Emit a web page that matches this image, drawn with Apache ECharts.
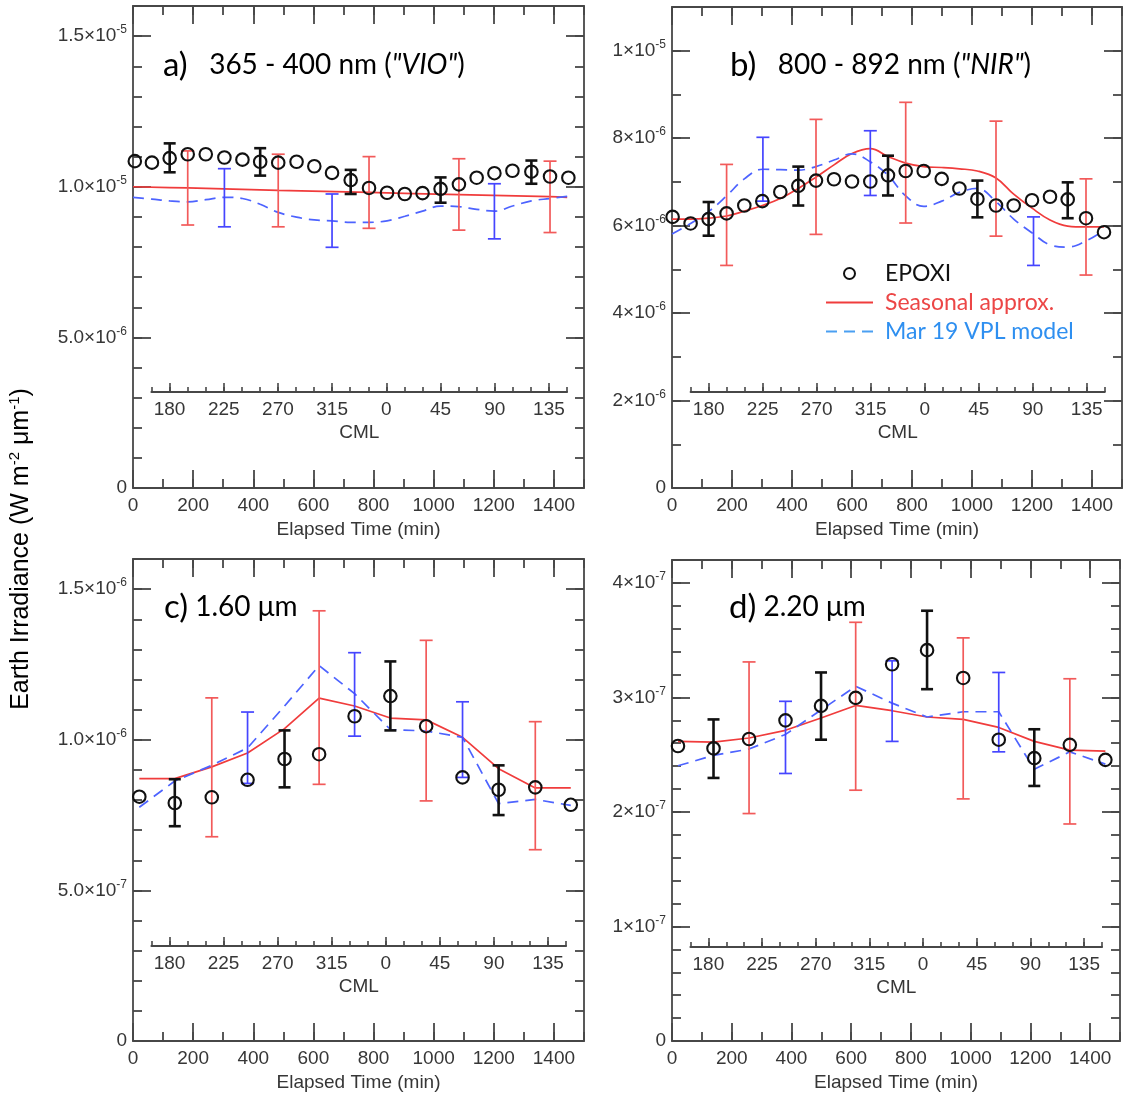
<!DOCTYPE html>
<html><head><meta charset="utf-8">
<script src="https://cdn.jsdelivr.net/npm/echarts@6/dist/echarts.min.js"></script>
<style>html,body{margin:0;padding:0;background:#fff}#c{width:1123px;height:1097px}</style>
</head><body><div id="c"></div>
<script>
// ================= DATA =================
const xTicks = [0, 200, 400, 600, 800, 1000, 1200, 1400];
const cmlTicks = [180, 225, 270, 315, 360, 405, 450, 495]; // shown modulo 360

// ---- panel a : 365-400 nm (units 1e-6) ----
const aUnit = 1e-6;
const aYTicks = [0, 5e-6, 1e-5, 1.5e-5];
const aYLabels = ['0', '5.0×10^-6', '1.0×10^-5', '1.5×10^-5'];
const aEpoxiT = [6, 63, 122, 182, 242, 304, 364, 423, 483, 544, 603, 662, 724, 785, 845, 904, 963, 1023, 1084, 1143, 1202, 1262, 1325, 1387, 1448];
const aEpoxiV = [10.85, 10.80, 10.95, 11.08, 11.08, 10.97, 10.90, 10.83, 10.80, 10.83, 10.68, 10.46, 10.22, 9.96, 9.80, 9.76, 9.79, 9.93, 10.08, 10.30, 10.45, 10.53, 10.50, 10.34, 10.30];
const aEpoxiErrT = [122, 423, 724, 1023, 1325];
const aEpoxiErrLo = [10.48, 10.37, 9.76, 9.47, 10.10];
const aEpoxiErrHi = [11.44, 11.28, 10.56, 10.31, 10.87];
const aSeasT = [0, 182, 483, 785, 1084, 1387, 1444];
const aSeasV = [10.0, 9.96, 9.88, 9.81, 9.74, 9.67, 9.65];
const aSeasErrT = [182, 483, 785, 1084, 1387];
const aSeasErrLo = [8.73, 8.67, 8.62, 8.56, 8.48];
const aSeasErrHi = [11.19, 11.08, 11.00, 10.93, 10.85];
const aVplT = [0, 63, 122, 182, 242, 304, 364, 423, 483, 544, 603, 662, 724, 785, 845, 904, 963, 1023, 1084, 1143, 1202, 1262, 1325, 1387, 1444];
const aVplV = [9.65, 9.59, 9.53, 9.50, 9.57, 9.65, 9.61, 9.42, 9.15, 8.99, 8.90, 8.87, 8.82, 8.82, 8.87, 9.02, 9.19, 9.36, 9.34, 9.25, 9.19, 9.36, 9.53, 9.61, 9.68];
const aVplErrT = [304, 662, 1202];
const aVplErrLo = [8.67, 7.99, 8.27];
const aVplErrHi = [10.60, 9.76, 10.10];

// ---- panel b : 800-892 nm (units 1e-6) ----
const bUnit = 1e-6;
const bYTicks = [0, 2e-6, 4e-6, 6e-6, 8e-6, 1e-5];
const bYLabels = ['0', '2×10^-6', '4×10^-6', '6×10^-6', '8×10^-6', '1×10^-5'];
const bEpoxiT = [2, 62, 122, 182, 241, 301, 361, 421, 480, 540, 600, 661, 720, 779, 839, 899, 958, 1018, 1080, 1139, 1200, 1260, 1319, 1380, 1440];
const bEpoxiV = [6.20, 6.05, 6.15, 6.28, 6.46, 6.56, 6.77, 6.91, 7.03, 7.06, 7.01, 7.01, 7.15, 7.25, 7.25, 7.07, 6.85, 6.61, 6.46, 6.46, 6.58, 6.66, 6.60, 6.17, 5.85];
const bEpoxiErrT = [122, 421, 720, 1018, 1319];
const bEpoxiErrLo = [5.77, 6.46, 6.69, 6.19, 6.17];
const bEpoxiErrHi = [6.54, 7.35, 7.60, 7.03, 6.99];
const bSeasT = [0, 60, 122, 182, 241, 301, 361, 421, 480, 540, 600, 661, 720, 779, 839, 899, 958, 1018, 1080, 1139, 1200, 1260, 1319, 1380, 1440];
const bSeasV = [6.15, 6.15, 6.17, 6.22, 6.33, 6.46, 6.62, 6.85, 7.11, 7.39, 7.65, 7.76, 7.58, 7.43, 7.35, 7.33, 7.30, 7.25, 7.09, 6.72, 6.40, 6.13, 5.99, 5.97, 5.97];
const bSeasErrT = [182, 480, 779, 1080, 1380];
const bSeasErrLo = [5.09, 5.80, 6.06, 5.76, 4.87];
const bSeasErrHi = [7.40, 8.43, 8.82, 8.39, 7.07];
const bVplT = [0, 62, 122, 182, 241, 303, 361, 421, 480, 540, 600, 661, 720, 779, 839, 899, 958, 1018, 1080, 1139, 1205, 1260, 1319, 1380, 1440];
const bVplV = [5.81, 6.05, 6.32, 6.68, 7.07, 7.29, 7.28, 7.27, 7.35, 7.50, 7.64, 7.46, 7.15, 6.68, 6.44, 6.56, 6.76, 6.85, 6.55, 6.15, 5.81, 5.56, 5.51, 5.65, 5.89];
const bVplErrT = [303, 661, 1205];
const bVplErrLo = [6.56, 6.69, 5.09];
const bVplErrHi = [8.02, 8.17, 6.20];

// ---- panel c : 1.60 um (units 1e-7) ----
const cUnit = 1e-7;
const cYTicks = [0, 5e-7, 1e-6, 1.5e-6];
const cYLabels = ['0', '5.0×10^-7', '1.0×10^-6', '1.5×10^-6'];
const cEpoxiT = [21, 139, 262, 381, 504, 619, 737, 856, 975, 1096, 1216, 1338, 1456];
const cEpoxiV = [8.11, 7.90, 8.09, 8.67, 9.36, 9.52, 10.78, 11.45, 10.45, 8.75, 8.34, 8.42, 7.84];
const cEpoxiErrT = [139, 504, 856, 1216];
const cEpoxiErrLo = [7.13, 8.42, 10.31, 7.50];
const cEpoxiErrHi = [8.69, 10.31, 12.60, 9.15];
const cSeasT = [21, 139, 262, 381, 504, 619, 737, 856, 975, 1096, 1216, 1338, 1456];
const cSeasV = [8.71, 8.71, 9.10, 9.56, 10.37, 11.38, 11.12, 10.72, 10.66, 10.08, 9.04, 8.40, 8.40];
const cSeasErrT = [262, 619, 975, 1338];
const cSeasErrLo = [6.78, 8.52, 7.97, 6.35];
const cSeasErrHi = [11.39, 14.28, 13.30, 10.60];
const cVplT = [21, 139, 262, 381, 504, 619, 737, 856, 975, 1096, 1216, 1338, 1456];
const cVplV = [7.76, 8.63, 9.15, 9.73, 11.12, 12.46, 11.53, 10.34, 10.29, 10.08, 7.88, 8.02, 7.82];
const cVplErrT = [381, 737, 1096];
const cVplErrLo = [8.55, 10.12, 8.75];
const cVplErrHi = [10.92, 12.89, 11.26];

// ---- panel d : 2.20 um (units 1e-7) ----
const dUnit = 1e-7;
const dYTicks = [0, 1e-7, 2e-7, 3e-7, 4e-7];
const dYLabels = ['0', '1×10^-7', '2×10^-7', '3×10^-7', '4×10^-7'];
const dEpoxiT = [20, 139, 258, 380, 499, 615, 737, 854, 975, 1094, 1213, 1332, 1451];
const dEpoxiV = [2.576, 2.555, 2.637, 2.800, 2.926, 2.996, 3.290, 3.413, 3.170, 2.631, 2.470, 2.586, 2.455];
const dEpoxiErrT = [139, 499, 854, 1213];
const dEpoxiErrLo = [2.297, 2.631, 3.072, 2.227];
const dEpoxiErrHi = [2.808, 3.218, 3.757, 2.722];
const dSeasT = [20, 139, 258, 380, 499, 615, 737, 854, 975, 1094, 1213, 1332, 1451];
const dSeasV = [2.616, 2.610, 2.646, 2.713, 2.820, 2.930, 2.884, 2.829, 2.808, 2.738, 2.616, 2.540, 2.531];
const dSeasErrT = [258, 615, 975, 1332];
const dSeasErrLo = [1.986, 2.190, 2.114, 1.895];
const dSeasErrHi = [3.310, 3.656, 3.520, 3.163];
const dVplT = [20, 139, 258, 380, 499, 615, 737, 854, 975, 1094, 1213, 1332, 1451];
const dVplV = [2.403, 2.494, 2.549, 2.677, 2.890, 3.097, 2.950, 2.829, 2.875, 2.875, 2.373, 2.525, 2.418];
const dVplErrT = [380, 737, 1094];
const dVplErrLo = [2.336, 2.616, 2.525];
const dVplErrHi = [2.966, 3.320, 3.218];

// ================= STYLE / LAYOUT =================
const AX = '#474747', LBL = '#363636';
const HF = "'Liberation Sans', Arial, Helvetica, sans-serif";
const CF = "Lato, 'Open Sans', sans-serif";
const RED = '#f03c3c', RED_ERR = '#f25a5a', BLUE = '#4d63ff', BLUE_ERR = '#4545ff';

function pairs(t, v, u) { return t.map((x, i) => [x, v[i] * u]); }
function bars(t, lo, hi, u) { return t.map((x, i) => [x, lo[i] * u, hi[i] * u]); }

const panels = [
  { grid: { left: 133, top: 6, width: 451, height: 482 }, cml: { left: 151.5, width: 415.5, y: 392 },
    ymax: 1.6e-5, yminor: 1e-6, yTicks: aYTicks, yLabels: aYLabels, smooth: 0.4,
    epoxi: pairs(aEpoxiT, aEpoxiV, aUnit), epoxiErr: bars(aEpoxiErrT, aEpoxiErrLo, aEpoxiErrHi, aUnit),
    seas: pairs(aSeasT, aSeasV, aUnit), seasErr: bars(aSeasErrT, aSeasErrLo, aSeasErrHi, aUnit),
    vpl: pairs(aVplT, aVplV, aUnit), vplErr: bars(aVplErrT, aVplErrLo, aVplErrHi, aUnit) },
  { grid: { left: 672, top: 7, width: 450, height: 481 }, cml: { left: 690.7, width: 414, y: 392 },
    ymax: 1.1e-5, yminor: 1e-6, yTicks: bYTicks, yLabels: bYLabels, smooth: 0.4,
    epoxi: pairs(bEpoxiT, bEpoxiV, bUnit), epoxiErr: bars(bEpoxiErrT, bEpoxiErrLo, bEpoxiErrHi, bUnit),
    seas: pairs(bSeasT, bSeasV, bUnit), seasErr: bars(bSeasErrT, bSeasErrLo, bSeasErrHi, bUnit),
    vpl: pairs(bVplT, bVplV, bUnit), vplErr: bars(bVplErrT, bVplErrLo, bVplErrHi, bUnit) },
  { grid: { left: 133, top: 559, width: 451, height: 482 }, cml: { left: 151.5, width: 414.5, y: 946 },
    ymax: 1.6e-6, yminor: 1e-7, yTicks: cYTicks, yLabels: cYLabels, smooth: false,
    epoxi: pairs(cEpoxiT, cEpoxiV, cUnit), epoxiErr: bars(cEpoxiErrT, cEpoxiErrLo, cEpoxiErrHi, cUnit),
    seas: pairs(cSeasT, cSeasV, cUnit), seasErr: bars(cSeasErrT, cSeasErrLo, cSeasErrHi, cUnit),
    vpl: pairs(cVplT, cVplV, cUnit), vplErr: bars(cVplErrT, cVplErrLo, cVplErrHi, cUnit) },
  { grid: { left: 672, top: 560, width: 448, height: 481 }, cml: { left: 690.5, width: 411.5, y: 947 },
    ymax: 4.2e-7, yminor: 2e-8, yTicks: dYTicks, yLabels: dYLabels, smooth: false,
    epoxi: pairs(dEpoxiT, dEpoxiV, dUnit), epoxiErr: bars(dEpoxiErrT, dEpoxiErrLo, dEpoxiErrHi, dUnit),
    seas: pairs(dSeasT, dSeasV, dUnit), seasErr: bars(dSeasErrT, dSeasErrLo, dSeasErrHi, dUnit),
    vpl: pairs(dVplT, dVplV, dUnit), vplErr: bars(dVplErrT, dVplErrLo, dVplErrHi, dUnit) }
];

function sciRich(s) {
  const k = s.indexOf('^');
  if (k < 0) return '{m|' + s + '}';
  return '{m|' + s.slice(0, k) + '}{e|' + s.slice(k + 1) + '}';
}
function labelFor(ticks, labels, v) {
  for (let i = 0; i < ticks.length; i++) {
    if (Math.abs(ticks[i] - v) <= Math.abs(ticks[ticks.length - 1]) * 1e-6) return labels[i];
  }
  return '';
}
function errRender(color, width, cap) {
  return function (params, api) {
    const x = api.value(0), lo = api.value(1), hi = api.value(2);
    const p1 = api.coord([x, lo]), p2 = api.coord([x, hi]);
    const st = { stroke: color, lineWidth: width, fill: null };
    return { type: 'group', children: [
      { type: 'line', shape: { x1: p1[0], y1: p1[1], x2: p2[0], y2: p2[1] }, style: st },
      { type: 'line', shape: { x1: p1[0] - cap, y1: p1[1], x2: p1[0] + cap, y2: p1[1] }, style: st },
      { type: 'line', shape: { x1: p2[0] - cap, y1: p2[1], x2: p2[0] + cap, y2: p2[1] }, style: st }
    ] };
  };
}

const lineSt = { color: AX, width: 1.8 };
const grids = [], xAxes = [], yAxes = [], series = [];

panels.forEach((p) => { grids.push(Object.assign({ containLabel: false }, p.grid)); });
panels.forEach((p) => { grids.push({ left: p.cml.left, width: p.cml.width, top: p.cml.y - 1, height: 1 }); });

panels.forEach((p, i) => {
  // x axes: bottom major, bottom minor, top major, top minor
  xAxes.push({ type: 'value', gridIndex: i, min: 0, max: 1500, position: 'bottom',
    axisLine: { show: true, onZero: false, lineStyle: lineSt },
    axisTick: { show: true, inside: true, length: 18, customValues: xTicks, lineStyle: lineSt },
    axisLabel: { show: true, customValues: xTicks, margin: 8, fontSize: 19, color: LBL, fontFamily: HF,
      formatter: v => String(Math.round(v)) },
    splitLine: { show: false },
    name: 'Elapsed Time (min)', nameLocation: 'middle', nameGap: 32,
    nameTextStyle: { fontSize: 19, color: LBL, fontFamily: HF } });
  xAxes.push({ type: 'value', gridIndex: i, min: 0, max: 1500, interval: 100, position: 'bottom',
    axisLine: { show: false, onZero: false }, axisTick: { show: true, inside: true, length: 9, lineStyle: lineSt },
    axisLabel: { show: false }, splitLine: { show: false } });
  xAxes.push({ type: 'value', gridIndex: i, min: 0, max: 1500, position: 'top',
    axisLine: { show: true, onZero: false, lineStyle: lineSt },
    axisTick: { show: true, inside: true, length: 18, customValues: xTicks, lineStyle: lineSt },
    axisLabel: { show: false }, splitLine: { show: false } });
  xAxes.push({ type: 'value', gridIndex: i, min: 0, max: 1500, interval: 100, position: 'top',
    axisLine: { show: false, onZero: false }, axisTick: { show: true, inside: true, length: 9, lineStyle: lineSt },
    axisLabel: { show: false }, splitLine: { show: false } });

  const fmt = v => sciRich(labelFor(p.yTicks, p.yLabels, v));
  yAxes.push({ type: 'value', gridIndex: i, min: 0, max: p.ymax, position: 'left',
    axisLine: { show: true, onZero: false, lineStyle: lineSt },
    axisTick: { show: true, inside: true, length: 18, customValues: p.yTicks, lineStyle: lineSt },
    axisLabel: { show: true, customValues: p.yTicks, margin: 6, formatter: fmt, color: LBL,
      rich: { m: { fontSize: 19, color: LBL, fontFamily: HF },
              e: { fontSize: 12, color: LBL, fontFamily: HF, padding: [0, 0, 12, 0] } } },
    splitLine: { show: false } });
  yAxes.push({ type: 'value', gridIndex: i, min: 0, max: p.ymax, interval: p.yminor, position: 'left',
    axisLine: { show: false, onZero: false }, axisTick: { show: true, inside: true, length: 9, lineStyle: lineSt },
    axisLabel: { show: false }, splitLine: { show: false } });
  yAxes.push({ type: 'value', gridIndex: i, min: 0, max: p.ymax, position: 'right',
    axisLine: { show: true, onZero: false, lineStyle: lineSt },
    axisTick: { show: true, inside: true, length: 18, customValues: p.yTicks, lineStyle: lineSt },
    axisLabel: { show: false }, splitLine: { show: false } });
  yAxes.push({ type: 'value', gridIndex: i, min: 0, max: p.ymax, interval: p.yminor, position: 'right',
    axisLine: { show: false, onZero: false }, axisTick: { show: true, inside: true, length: 9, lineStyle: lineSt },
    axisLabel: { show: false }, splitLine: { show: false } });
});

// CML axes
panels.forEach((p, i) => {
  const g = 4 + i;
  xAxes.push({ type: 'value', gridIndex: g, min: 165, max: 510, interval: 15, position: 'bottom',
    axisLine: { show: true, onZero: false, lineStyle: { color: AX, width: 2.2 } },
    axisTick: { show: true, inside: true, length: 5, lineStyle: { color: AX, width: 1.6 } },
    axisLabel: { show: false }, splitLine: { show: false } });
  xAxes.push({ type: 'value', gridIndex: g, min: 165, max: 510, position: 'bottom',
    axisLine: { show: false, onZero: false },
    axisTick: { show: true, inside: true, length: 9, customValues: cmlTicks, lineStyle: { color: AX, width: 1.6 } },
    axisLabel: { show: true, customValues: cmlTicks, margin: 8, fontSize: 19, color: LBL, fontFamily: HF,
      formatter: v => String(Math.round(v) % 360) },
    splitLine: { show: false },
    name: 'CML', nameLocation: 'middle', nameGap: 31, nameTextStyle: { fontSize: 19, color: LBL, fontFamily: HF } });
  yAxes.push({ type: 'value', gridIndex: g, min: 0, max: 1, show: false });
});

panels.forEach((p, i) => {
  const xi = i * 4, yi = i * 4;
  series.push({ type: 'line', name: 'Seasonal approx.', xAxisIndex: xi, yAxisIndex: yi, data: p.seas,
    symbol: 'none', showSymbol: false, smooth: p.smooth, z: 2,
    lineStyle: { color: RED, width: 1.7 }, itemStyle: { color: RED } });
  series.push({ type: 'line', name: 'Mar 19 VPL model', xAxisIndex: xi, yAxisIndex: yi, data: p.vpl,
    symbol: 'none', showSymbol: false, smooth: p.smooth, z: 2,
    lineStyle: { color: BLUE, width: 1.7, type: [11, 7] }, itemStyle: { color: BLUE } });
  series.push({ type: 'custom', name: 'seasErr', xAxisIndex: xi, yAxisIndex: yi, data: p.seasErr,
    renderItem: errRender(RED_ERR, 1.7, 6.5), encode: { x: 0, y: [1, 2] }, z: 3 });
  series.push({ type: 'custom', name: 'vplErr', xAxisIndex: xi, yAxisIndex: yi, data: p.vplErr,
    renderItem: errRender(BLUE_ERR, 1.7, 6.5), encode: { x: 0, y: [1, 2] }, z: 3 });
  series.push({ type: 'custom', name: 'epoxiErr', xAxisIndex: xi, yAxisIndex: yi, data: p.epoxiErr,
    renderItem: errRender('#111', 2.6, 6), encode: { x: 0, y: [1, 2] }, z: 4 });
  series.push({ type: 'scatter', name: 'EPOXI', xAxisIndex: xi, yAxisIndex: yi, data: p.epoxi,
    symbol: 'circle', symbolSize: 12.5, z: 5,
    itemStyle: { color: 'rgba(255,255,255,0)', borderColor: '#111', borderWidth: 2.1, opacity: 1 } });
});

const titleRich = {
  l: { fontFamily: CF, fontSize: 33, color: '#111' },
  t: { fontFamily: CF, fontSize: 28, color: '#111' },
  i: { fontFamily: CF, fontSize: 28, color: '#111', fontStyle: 'italic' }
};
const graphics = [
  { type: 'text', x: 163, y: 65, style: { text: '{l|a)}{t|   365 - 400 nm (}{i|"VIO"}{t|)}', rich: titleRich, verticalAlign: 'middle' } },
  { type: 'text', x: 730, y: 65, style: { text: '{l|b)}{t|   800 - 892 nm (}{i|"NIR"}{t|)}', rich: titleRich, verticalAlign: 'middle' } },
  { type: 'text', x: 164, y: 607, style: { text: '{l|c)}{t| 1.60 μm}', rich: titleRich, verticalAlign: 'middle' } },
  { type: 'text', x: 729, y: 607, style: { text: '{l|d)}{t| 2.20 μm}', rich: titleRich, verticalAlign: 'middle' } },
  { type: 'text', x: 21, y: 549, rotation: Math.PI / 2,
    style: { text: '{n|Earth Irradiance (W m}{s|-2}{n| μm}{s|-1}{n|)}', align: 'center', verticalAlign: 'middle',
      rich: { n: { fontSize: 25, fontFamily: HF, color: '#222' },
              s: { fontSize: 15, fontFamily: HF, color: '#222', padding: [0, 0, 13, 0] } } } }
];

const chart = echarts.init(document.getElementById('c'), null, { renderer: 'canvas' });
chart.setOption({
  animation: false,
  backgroundColor: '#fff',
  textStyle: { fontFamily: HF },
  grid: grids, xAxis: xAxes, yAxis: yAxes, series: series,
  legend: {
    orient: 'vertical', left: 825, top: 262, padding: 0, itemWidth: 47, itemHeight: 11, itemGap: 6,
    selectedMode: false,
    textStyle: { fontFamily: CF, fontSize: 23, padding: [0, 0, 0, 7] },
    data: [
      { name: 'EPOXI', textStyle: { color: '#111' } },
      { name: 'Seasonal approx.', textStyle: { color: '#ec4646' },
        itemStyle: { color: 'rgba(0,0,0,0)', borderWidth: 0, opacity: 0 } },
      { name: 'Mar 19 VPL model', textStyle: { color: '#2e8ff0' }, lineStyle: { color: '#4a9ff2' },
        itemStyle: { color: 'rgba(0,0,0,0)', borderWidth: 0, opacity: 0 } }
    ]
  },
  graphic: graphics
});
</script>
</body></html>
